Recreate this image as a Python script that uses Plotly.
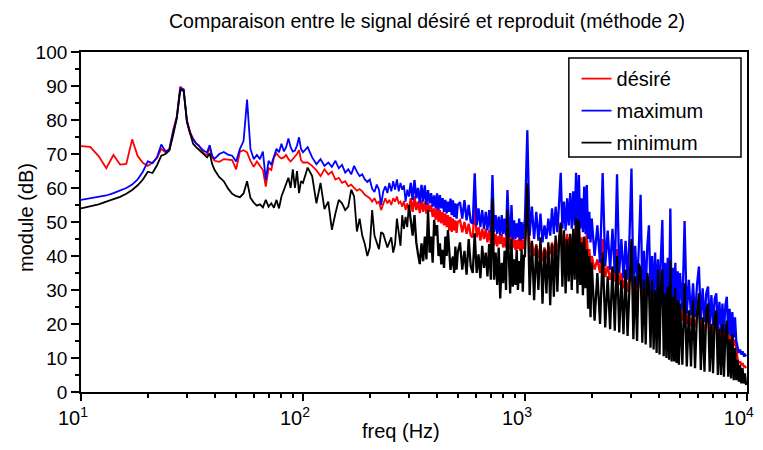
import plotly.graph_objects as go

# frequency grid (Hz), one block per frequency band
freq_1 = list(range(10, 41))            # 10..40
freq_2 = list(range(42, 101, 2))        # 42..100
freq_3 = list(range(105, 301, 5))       # 105..300
freq_4 = list(range(306, 499, 6))       # 306..498
freq_5 = list(range(510, 991, 12))      # 510..990
freq_6 = list(range(1000, 1976, 25))    # 1000..1975
freq_7 = list(range(2000, 4941, 60))    # 2000..4940
freq_8 = list(range(5000, 9921, 120))   # 5000..9920

# module (dB)
desire_1 = [72.3, 72.1, 69.4, 65.8, 69.7, 66.9, 67.1, 74.3, 69.4, 67.4, 66.5, 67.5, 68.8, 71.5, 70.5, 71.5,
            77.0, 81.0, 89.8, 89.0, 80.0, 76.5, 74.5, 73.0, 72.5, 71.0, 70.0, 69.8, 72.0, 69.0, 68.0]
maxi_1 = [56.5, 57.0, 57.3, 57.8, 58.5, 59.2, 60.0, 61.0, 62.5, 64.8, 67.8, 67.3, 69.0, 72.8, 70.8, 71.2,
          76.5, 80.5, 89.3, 89.0, 79.5, 76.0, 74.3, 73.2, 72.2, 71.5, 70.8, 70.5, 72.6, 69.5, 68.6]
mini_1 = [54.0, 54.6, 55.2, 56.0, 56.7, 57.4, 58.3, 59.4, 60.8, 62.5, 64.8, 64.4, 66.7, 69.5, 70.0, 71.0,
          75.5, 80.5, 88.8, 88.6, 79.5, 76.0, 73.0, 72.0, 71.2, 70.3, 69.6, 69.0, 70.2, 67.0, 65.3]

desire_2 = [67.7, 68.5, 68.4, 68.2, 65.5, 70.7, 71.1, 70.5, 68.0, 66.2, 67.8, 66.5, 65.3, 60.4, 65.8,
            65.3, 69.0, 70.2, 69.2, 68.7, 69.0, 69.7, 68.5, 67.8, 68.5, 69.2, 70.0, 71.1, 68.2, 67.5]
maxi_2 = [70.0, 70.6, 69.8, 69.5, 67.8, 71.5, 73.8, 86.0, 71.5, 68.5, 69.7, 68.5, 70.7, 62.3, 68.0,
          66.8, 69.5, 71.5, 70.5, 73.0, 70.8, 72.0, 74.6, 72.0, 70.7, 71.0, 72.5, 74.9, 71.5, 70.5]
mini_2 = [63.2, 62.0, 59.8, 58.3, 57.6, 57.3, 58.4, 62.0, 57.1, 55.7, 54.8, 55.2, 54.3, 56.5, 54.5,
          55.5, 54.2, 56.5, 54.0, 57.5, 59.5, 61.0, 63.0, 60.0, 65.5, 60.0, 65.0, 58.5, 62.0, 61.5]

desire_3 = [67.5, 66.5, 65.2, 63.5, 65.5, 64.0, 64.8, 62.5, 63.0, 61.5, 62.0, 60.5, 61.0, 60.0, 59.2,
            59.7, 59.0, 58.0, 57.5, 57.0, 56.0, 57.0, 55.5, 56.0, 53.5, 55.5, 57.0, 55.5, 56.5, 55.0,
            57.0, 56.0, 57.5, 55.5, 56.0, 54.5, 56.2, 53.5, 55.5, 53.0]
maxi_3 = [72.0, 69.0, 67.0, 68.5, 66.5, 67.5, 66.2, 68.0, 65.8, 66.8, 64.5, 65.5, 64.0, 66.5, 64.8,
          63.5, 64.0, 62.5, 61.8, 62.5, 59.8, 58.8, 61.0, 59.5, 55.0, 59.0, 60.5, 58.5, 61.5, 59.0,
          62.0, 59.5, 62.5, 59.0, 61.5, 59.5, 60.8, 56.0, 59.5, 57.5]
mini_3 = [66.0, 63.5, 55.5, 61.5, 53.8, 56.0, 47.7, 52.5, 56.5, 55.5, 53.5, 54.5, 59.5, 57.5, 47.2,
          51.0, 46.0, 43.5, 40.0, 42.5, 53.5, 46.0, 44.0, 42.0, 47.0, 46.5, 44.5, 42.5, 44.0, 45.5,
          41.0, 43.5, 51.0, 46.0, 43.0, 52.0, 48.0, 51.5, 48.5, 55.0]

desire_4 = [57.0, 53.0, 57.5, 53.5, 56.0, 52.6, 56.5, 53.0, 56.0, 52.5, 55.5, 53.0, 55.0, 51.5, 54.0,
            50.6, 54.5, 50.0, 53.5, 49.6, 53.0, 49.0, 52.5, 48.5, 52.0, 47.5, 51.5, 47.1, 51.0, 47.5,
            50.5, 46.8, 50.0]
maxi_4 = [61.5, 56.5, 62.3, 57.0, 60.0, 55.5, 60.9, 56.0, 60.8, 55.0, 59.4, 55.5, 58.5, 54.5, 57.8,
          54.0, 58.4, 53.5, 57.9, 54.0, 57.0, 53.0, 56.5, 52.5, 56.0, 53.0, 56.9, 52.0, 56.4, 51.5,
          55.5, 51.0, 55.0]
mini_4 = [50.0, 46.0, 52.0, 44.0, 40.5, 37.6, 43.7, 38.5, 45.7, 39.0, 53.5, 41.0, 45.7, 38.0, 50.6,
          46.0, 49.1, 40.0, 43.7, 37.5, 41.8, 36.5, 45.7, 40.0, 47.6, 41.8, 35.9, 38.5, 39.8, 35.0,
          42.8, 36.0, 41.0]

desire_5 = [50.5, 47.0, 50.0, 46.5, 49.5, 46.0, 45.5, 55.0, 45.5, 48.5, 44.5, 48.0, 45.0, 48.0, 44.0,
            47.5, 43.5, 55.0, 43.0, 46.5, 42.8, 46.0, 43.5, 46.5, 42.5, 45.5, 42.5, 52.0, 45.0, 42.0,
            48.0, 42.5, 45.0, 41.8, 44.7, 42.0, 45.5, 41.5, 45.0, 42.0, 44.5]
maxi_5 = [55.8, 51.0, 56.4, 50.5, 55.0, 50.0, 49.5, 64.3, 49.0, 54.0, 48.5, 53.5, 48.0, 53.0, 47.5,
          53.5, 47.0, 63.8, 47.0, 52.0, 46.5, 51.6, 46.0, 52.0, 46.5, 51.0, 46.0, 59.4, 50.0, 45.5,
          55.0, 45.0, 50.5, 45.0, 49.6, 45.5, 51.0, 44.5, 50.0, 45.0, 49.0]
mini_5 = [44.0, 36.0, 41.5, 34.5, 45.0, 37.0, 35.0, 46.7, 35.0, 40.5, 33.5, 43.0, 36.5, 41.0, 34.0,
          43.5, 33.0, 57.1, 33.0, 41.0, 31.5, 42.5, 27.5, 38.0, 32.0, 41.5, 30.0, 53.5, 40.0, 29.0,
          45.0, 31.0, 39.0, 31.5, 41.8, 30.0, 38.5, 32.0, 42.0, 29.5, 40.0]

desire_6 = [44.5, 60.0, 41.0, 44.0, 40.0, 43.5, 39.5, 43.0, 38.5, 42.5, 39.0, 43.0, 40.5, 44.0, 40.0,
            44.5, 41.0, 45.0, 50.0, 42.0, 46.0, 41.5, 46.5, 42.5, 46.0, 42.0, 46.5, 43.0, 50.0, 42.0,
            49.0, 42.5, 45.5, 41.0, 45.0, 40.5, 47.0, 38.5, 42.0, 37.0]
maxi_6 = [50.5, 77.0, 46.0, 54.5, 45.0, 53.0, 44.5, 52.5, 44.0, 49.0, 45.0, 51.0, 46.0, 54.0, 46.5,
          54.5, 47.0, 55.5, 64.5, 48.0, 56.0, 47.5, 57.0, 49.0, 58.5, 48.0, 59.0, 49.0, 64.5, 48.5,
          63.8, 48.0, 57.0, 47.0, 60.4, 46.5, 60.9, 45.0, 53.0, 44.0]
mini_6 = [40.0, 61.4, 28.5, 44.5, 27.0, 43.0, 30.0, 45.5, 26.0, 42.0, 29.0, 44.0, 25.5, 43.5, 28.0,
          46.0, 29.5, 44.5, 49.6, 31.0, 47.6, 29.0, 45.0, 32.5, 46.5, 30.0, 48.0, 33.0, 51.1, 29.0,
          50.6, 31.5, 44.0, 28.5, 45.7, 30.5, 42.0, 24.5, 40.0, 22.0]

desire_7 = [40.0, 36.0, 39.0, 35.0, 45.0, 33.8, 37.0, 33.0, 36.5, 32.5, 42.0, 31.5, 35.0, 30.5, 34.0,
            29.5, 33.5, 40.0, 28.8, 32.5, 28.0, 32.0, 36.0, 27.5, 31.0, 27.5, 31.0, 33.0, 26.5, 30.0,
            26.0, 29.5, 25.0, 29.0, 24.5, 28.5, 32.0, 24.0, 28.0, 23.5, 27.5, 23.0, 31.0, 22.5, 26.5,
            22.0, 26.0, 21.5, 25.5, 21.5]
maxi_7 = [51.0, 40.0, 49.0, 38.0, 64.4, 37.0, 47.5, 36.0, 48.0, 35.0, 64.0, 35.0, 45.0, 33.5, 44.5,
          33.0, 46.0, 65.7, 31.5, 43.0, 31.0, 42.5, 58.0, 30.0, 41.5, 29.5, 43.0, 49.0, 28.5, 40.0,
          28.0, 41.0, 27.5, 39.0, 27.0, 40.0, 50.6, 26.5, 38.0, 26.0, 39.5, 25.5, 54.0, 25.0, 36.5,
          24.5, 38.0, 24.5, 35.5, 24.0]
mini_7 = [38.0, 21.0, 35.0, 20.0, 41.0, 19.0, 34.0, 18.5, 37.0, 18.0, 40.0, 17.5, 33.0, 17.0, 36.0,
          16.5, 33.5, 45.0, 15.5, 34.0, 15.0, 37.8, 36.0, 14.5, 33.0, 14.0, 35.0, 31.0, 13.0, 33.0,
          12.5, 30.0, 11.5, 36.0, 11.0, 31.0, 36.0, 10.5, 29.0, 10.0, 31.0, 9.5, 38.8, 9.0, 28.0,
          9.0, 30.5, 8.5, 27.0, 8.0]

desire_8 = [24.5, 21.0, 30.0, 20.0, 23.0, 19.5, 22.5, 19.0, 22.0, 25.0, 18.0, 21.0, 17.5, 20.5, 22.0,
            17.0, 20.0, 16.5, 19.5, 21.0, 16.0, 19.0, 15.5, 18.5, 15.0, 18.0, 20.0, 14.5, 17.5, 14.0,
            16.5, 13.5, 15.5, 13.0, 9.5, 8.5, 9.0, 8.0, 8.5, 7.5, 7.5, 7.0]
maxi_8 = [35.0, 24.0, 50.3, 23.0, 33.0, 22.5, 32.0, 22.0, 31.5, 36.9, 21.0, 30.5, 20.5, 29.0, 31.0,
          20.0, 28.5, 19.5, 27.5, 29.0, 18.5, 26.5, 18.0, 26.0, 17.5, 25.5, 28.0, 17.0, 24.5, 16.5,
          23.5, 16.0, 22.0, 15.0, 13.0, 11.5, 12.5, 11.0, 12.0, 10.8, 11.0, 10.5]
mini_8 = [26.0, 8.0, 32.0, 7.5, 24.0, 7.5, 27.0, 7.0, 23.0, 29.0, 6.5, 22.0, 6.0, 24.0, 26.0,
          6.0, 20.0, 5.5, 22.0, 24.0, 5.0, 18.5, 5.0, 20.0, 4.5, 17.0, 21.0, 4.5, 15.5, 4.0,
          17.0, 3.5, 13.0, 3.5, 9.5, 3.0, 8.0, 2.5, 7.0, 2.5, 5.5, 2.0]

# low part (clean lines) and high part (dense noisy band)
freq_lo = freq_1 + freq_2 + freq_3
freq_hi = freq_3[-1:] + freq_4 + freq_5 + freq_6 + freq_7 + freq_8
desire_lo = desire_1 + desire_2 + desire_3
desire_hi = desire_3[-1:] + desire_4 + desire_5 + desire_6 + desire_7 + desire_8
maxi_lo = maxi_1 + maxi_2 + maxi_3
maxi_hi = maxi_3[-1:] + maxi_4 + maxi_5 + maxi_6 + maxi_7 + maxi_8
mini_lo = mini_1 + mini_2 + mini_3
mini_hi = mini_3[-1:] + mini_4 + mini_5 + mini_6 + mini_7 + mini_8

x_tickvals = [10, 100, 1000, 10000]
x_ticktext = ['10<sup>1</sup>', '10<sup>2</sup>', '10<sup>3</sup>', '10<sup>4</sup>']
x_minor = [m * d for d in (10, 100, 1000) for m in range(2, 10)]

font = 'Liberation Sans, Arial, sans-serif'

series = [('désiré', '#ff0000', freq_lo, desire_lo, freq_hi, desire_hi),
          ('maximum', '#0000ff', freq_lo, maxi_lo, freq_hi, maxi_hi),
          ('minimum', '#000000', freq_lo, mini_lo, freq_hi, mini_hi)]

fig = go.Figure()
for name, color, xl, yl, xh, yh in series:
    fig.add_trace(go.Scatter(x=xl, y=yl, mode='lines', name=name, legendgroup=name,
                             line=dict(color=color, width=1.8)))
    fig.add_trace(go.Scatter(x=xh, y=yh, mode='lines', name=name, legendgroup=name,
                             showlegend=False, line=dict(color=color, width=2.3)))

# the page body adds an 8px margin on every side: keep the figure inside the window
fig.update_layout(
    width=747, height=434,
    margin=dict(l=73, r=1, t=44, b=50),
    paper_bgcolor='white', plot_bgcolor='white',
    font=dict(family=font, size=19, color='black'),
    showlegend=True,
    legend=dict(x=0.744, y=0.979, xanchor='left', yanchor='top',
                bgcolor='rgba(0,0,0,0)', borderwidth=0,
                font=dict(size=20), traceorder='grouped', tracegroupgap=3),
    shapes=[dict(type='rect', xref='paper', yref='paper', layer='above',
                 x0=0.7325, x1=0.991, y0=0.6914, y1=0.9824,
                 line=dict(color='black', width=1.5), fillcolor='white')],
    annotations=[
        dict(text='Comparaison entre le signal désiré et reproduit (méthode 2)',
             xref='paper', yref='paper', x=0.520, y=1.0, yshift=31,
             xanchor='center', yanchor='middle', showarrow=False, font=dict(size=19.5)),
        dict(text='module (dB)', xref='paper', yref='paper', x=0, xshift=-55, y=0.512,
             xanchor='center', yanchor='middle', textangle=-90, showarrow=False,
             font=dict(size=20)),
        dict(text='freq (Hz)', xref='paper', yref='paper', x=0.48, y=0, yshift=-39,
             xanchor='center', yanchor='middle', showarrow=False, font=dict(size=20)),
    ],
)

fig.update_xaxes(type='log', range=[1, 4.0005],
                 tickvals=x_tickvals, ticktext=x_ticktext, ticklabelshift=-8,
                 ticklabeloverflow='allow',
                 ticks='outside', ticklen=7, tickwidth=1.5, tickcolor='black',
                 minor=dict(tickmode='array', tickvals=x_minor, ticks='outside',
                            ticklen=4, tickwidth=1.5, tickcolor='black', showgrid=False),
                 showline=True, linecolor='black', linewidth=1.8, mirror=True,
                 showgrid=False, zeroline=False, tickfont=dict(size=20))
fig.update_yaxes(range=[0, 100], dtick=10,
                 ticks='outside', ticklen=8, tickwidth=1.5, tickcolor='black',
                 minor=dict(dtick=5, ticks='outside', ticklen=4, tickwidth=1.5,
                            tickcolor='black', showgrid=False),
                 showline=True, linecolor='black', linewidth=1.8, mirror=True,
                 showgrid=False, zeroline=False, tickfont=dict(size=19))

fig.write_html("out.html")
